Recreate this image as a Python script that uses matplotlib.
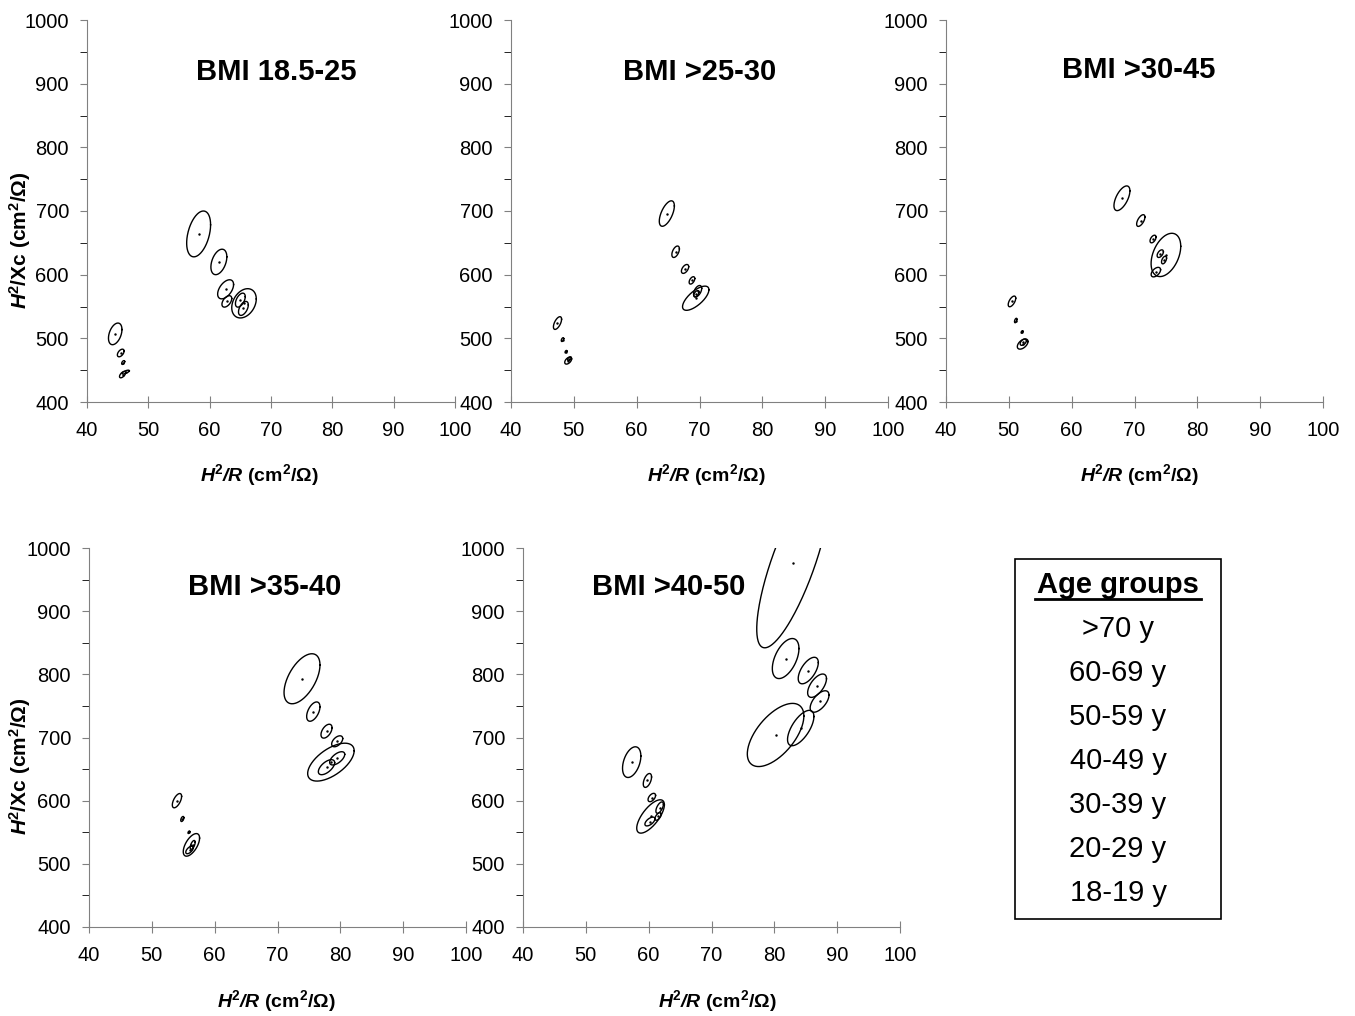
import numpy as np
import matplotlib.pyplot as plt
from matplotlib.patches import Rectangle

plt.rcParams['font.family'] = ['Liberation Sans', 'DejaVu Sans']
plt.rcParams['mathtext.fontset'] = 'custom'
plt.rcParams['mathtext.rm'] = 'Liberation Sans'
plt.rcParams['mathtext.it'] = 'Liberation Sans:italic'
plt.rcParams['mathtext.bf'] = 'Liberation Sans:bold'
plt.rcParams['mathtext.bfit'] = 'Liberation Sans:bold:italic'

# each ellipse: (centre x, centre y, half-extent x, half-extent y, correlation)
bmi1_ellipses = [
    (58.2, 664, 1.95, 36, 0.4), (61.5, 620, 1.3, 20, 0.4), (62.6, 577, 1.3, 15, 0.5),
    (62.8, 558, 0.8, 9, 0.5), (65.6, 555, 2.0, 23, 0.3), (65.0, 560, 0.8, 11, 0.5),
    (65.5, 547, 0.8, 11, 0.5),
    (44.6, 507, 1.1, 17, 0.4), (45.5, 477, 0.55, 6, 0.5), (45.9, 462, 0.25, 3, 0.5),
    (45.8, 443, 0.5, 5, 0.6), (46.3, 447, 0.6, 3, 0.7),
]
bmi2_ellipses = [
    (64.8, 696, 1.2, 20, 0.6), (66.2, 636, 0.6, 9, 0.5), (67.7, 609, 0.58, 7, 0.5),
    (68.8, 591, 0.45, 5.8, 0.5), (69.7, 574, 0.65, 9, 0.5), (69.4, 563, 2.1, 19, 0.7),
    (69.5, 570, 0.4, 5, 0.5),
    (47.4, 524, 0.65, 10, 0.6), (48.2, 498, 0.2, 3, 0.5), (48.75, 479, 0.15, 2, 0.5),
    (49.1, 465, 0.55, 5.5, 0.5), (49.3, 468, 0.3, 3, 0.5),
]
bmi3_ellipses = [
    (68.0, 720, 1.27, 19.4, 0.6), (71.0, 685, 0.66, 9.2, 0.6), (72.95, 656, 0.48, 6, 0.5),
    (75.0, 631, 2.36, 34, 0.4), (74.1, 633, 0.5, 6, 0.5), (74.7, 623, 0.4, 6, 0.5),
    (73.4, 604, 0.75, 7.5, 0.5),
    (50.5, 558, 0.6, 8.4, 0.6), (51.1, 528, 0.2, 3.5, 0.5), (52.1, 510, 0.15, 2, 0.5),
    (52.2, 491, 0.85, 8, 0.5), (52.3, 494, 0.5, 5, 0.5),
]
bmi4_ellipses = [
    (73.9, 793, 2.86, 39.6, 0.55), (75.7, 741, 1.06, 15.3, 0.5), (77.8, 710, 0.88, 11, 0.5),
    (79.5, 694, 0.88, 8.7, 0.5), (78.5, 661, 3.7, 30, 0.6), (77.8, 653, 1.3, 11.9, 0.6),
    (79.5, 667, 1.2, 10.5, 0.6),
    (54.0, 600, 0.74, 11.3, 0.6), (54.85, 571, 0.25, 4, 0.5), (55.9, 550, 0.15, 2, 0.5),
    (56.3, 530, 1.3, 17.9, 0.6), (56.0, 522, 0.6, 6, 0.6), (56.5, 530, 0.4, 7, 0.6),
]
bmi5_ellipses = [
    (83.0, 977, 5.8, 135, 0.78), (81.8, 825, 2.12, 31.7, 0.5), (85.4, 806, 1.6, 21, 0.6),
    (86.8, 782, 1.5, 18.5, 0.6), (87.2, 757, 1.5, 17, 0.6), (80.2, 704, 4.5, 50, 0.6),
    (84.2, 715, 2.1, 28, 0.65),
    (57.3, 661, 1.46, 24.3, 0.4), (59.8, 632, 0.66, 11, 0.5), (60.5, 605, 0.6, 6.6, 0.5),
    (60.3, 575, 2.2, 26.4, 0.7), (61.75, 589, 0.6, 9, 0.6), (60.2, 567, 0.8, 7, 0.6),
    (61.5, 575, 0.5, 6, 0.6),
]

panel_titles = ["BMI 18.5-25", "BMI >25-30", "BMI >30-45", "BMI >35-40", "BMI >40-50"]
age_groups = [">70 y", "60-69 y", "50-59 y", "40-49 y", "30-39 y", "20-29 y", "18-19 y"]

x_ticks = [40, 50, 60, 70, 80, 90, 100]
y_ticks = [400, 500, 600, 700, 800, 900, 1000]

xlab = r'$\mathbfit{H}^{\mathbf{2}}\mathbfit{/R}$ (cm$^{\mathbf{2}}$/$\mathbf{\Omega}$)'
ylab = r'$\mathbfit{H}^{\mathbf{2}}$/Xc (cm$^{\mathbf{2}}$/$\mathbf{\Omega}$)'


def ellipse_xy(cx, cy, sx, sy, r):
    t = np.linspace(0, 2 * np.pi, 240)
    x = cx + sx * np.cos(t)
    y = cy + sy * (r * np.cos(t) + np.sqrt(1 - r * r) * np.sin(t))
    return x, y


fig = plt.figure(figsize=(13.55, 10.16), dpi=100)
W, H = 1355.0, 1016.0

# axes boxes in pixels: left, right, top, bottom
boxes = [(87, 455, 20, 402), (511, 888, 20, 402), (946, 1323, 20, 402),
         (89, 466, 548, 927), (523, 900, 548, 927)]
title_pos = [(0.514, 0.864), (0.501, 0.864), (0.512, 0.869), (0.467, 0.897), (0.387, 0.897)]
all_ellipses = [bmi1_ellipses, bmi2_ellipses, bmi3_ellipses, bmi4_ellipses, bmi5_ellipses]

for i, (l, r_, t, b) in enumerate(boxes):
    ax = fig.add_axes([l / W, 1 - b / H, (r_ - l) / W, (b - t) / H])
    for (cx, cy, sx, sy, rho) in all_ellipses[i]:
        x, y = ellipse_xy(cx, cy, sx, sy, rho)
        ax.plot(x, y, color='black', lw=1.0)
        ax.plot(cx, cy, '.', color='black', ms=1.5)
    ax.set_xlim(40, 100)
    ax.set_ylim(400, 1000)
    ax.set_xticks(x_ticks)
    ax.set_yticks(y_ticks)
    ax.set_yticks(np.arange(450, 1000, 100), minor=True)
    ax.tick_params(axis='both', labelsize=14.5, color='#808080')
    ax.tick_params(axis='x', direction='inout', length=8, pad=10)
    ax.tick_params(axis='y', which='both', direction='out', length=5, pad=8)
    for s in ['top', 'right']:
        ax.spines[s].set_visible(False)
    for s in ['left', 'bottom']:
        ax.spines[s].set_color('#808080')
    ax.text(title_pos[i][0], title_pos[i][1], panel_titles[i], transform=ax.transAxes,
            ha='center', va='center', fontsize=21, fontweight='bold')

# x labels
for xc, yc in [(259, 475), (706, 475), (1139, 475), (276, 1001), (717, 1001)]:
    fig.text(xc / W, 1 - yc / H, xlab, ha='center', va='center', fontsize=14, fontweight='bold')
# y labels
for yc in [240, 766]:
    fig.text(20 / W, 1 - yc / H, ylab, ha='center', va='center', rotation=90,
             fontsize=15, fontweight='bold')

# legend box
fig.patches.append(Rectangle((1015 / W, 1 - 919 / H), 206 / W, 360 / H, transform=fig.transFigure,
                             fill=False, edgecolor='black', lw=1.2))
fig.text(1118 / W, 1 - 585 / H, "Age groups", ha='center', va='center',
         fontsize=21, fontweight='bold')
fig.add_artist(plt.Line2D([1035 / W, 1201 / W], [1 - 599 / H, 1 - 599 / H], color='black', lw=2))
for k, lab in enumerate(age_groups):
    fig.text(1118 / W, 1 - (629 + 44 * k) / H, lab, ha='center', va='center', fontsize=21)

fig.savefig('out.png', dpi=100)
